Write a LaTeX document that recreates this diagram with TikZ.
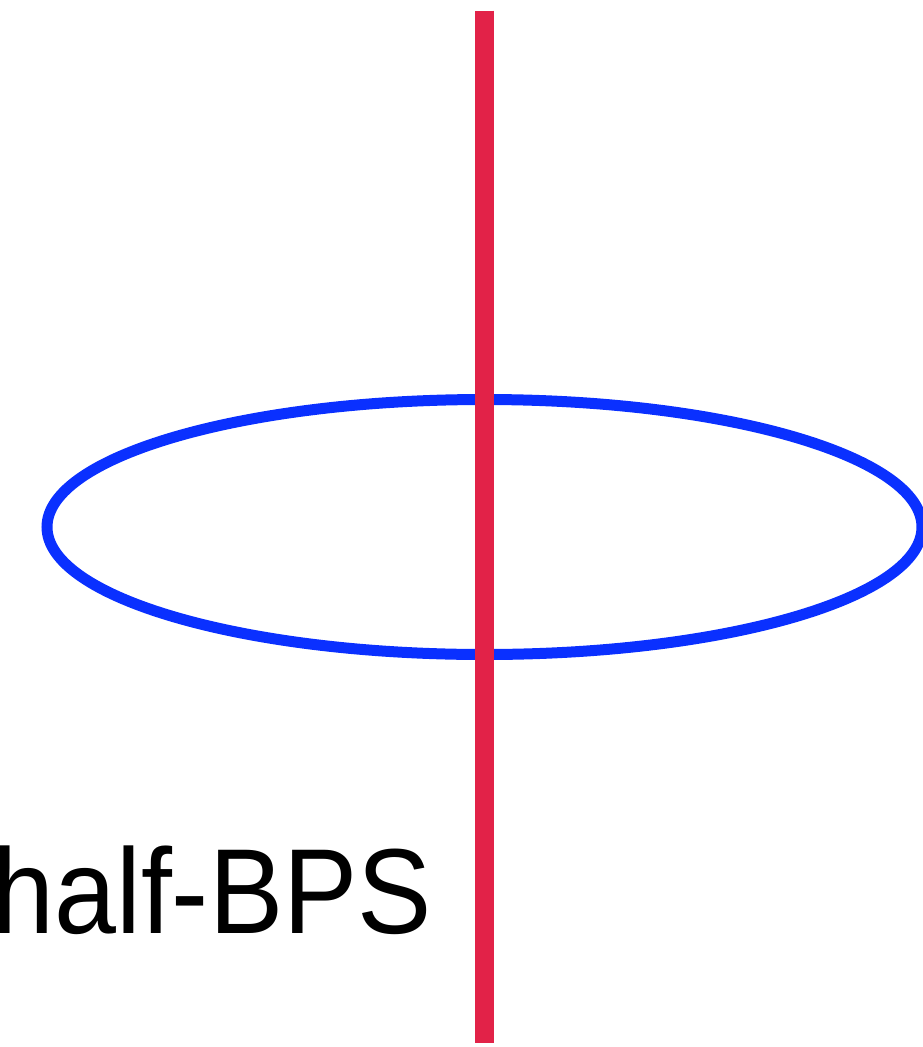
\documentclass[tikz,border=0pt]{standalone}
\usepackage{fontspec}
\usetikzlibrary{shapes.geometric}
\setmainfont{Liberation Sans}
\definecolor{lred}{HTML}{E22248}
\definecolor{lblue}{HTML}{0A30FF}
\tikzset{
  loopline/.style={draw=lblue, line width=11pt, ellipse, inner sep=0pt, outer sep=0pt, minimum width=875pt, minimum height=255pt},
  wilson/.style={draw=lred, line width=18.5pt},
  lab/.style={font=\fontsize{121}{121}\selectfont, inner sep=0pt, anchor=base east, xscale=0.92}
}
\begin{document}
\begin{tikzpicture}[x=1pt,y=-1pt]
\useasboundingbox (0,0) rectangle (922,1047);
\node[loopline] (loop) at (484.5,527) {};
\coordinate (top) at (484.5,10.5);
\coordinate (bot) at (484.5,1043);
\draw[wilson] (top) -- (bot);
\node[lab] (label) at (432,933) {half-BPS};
\end{tikzpicture}
\end{document}
